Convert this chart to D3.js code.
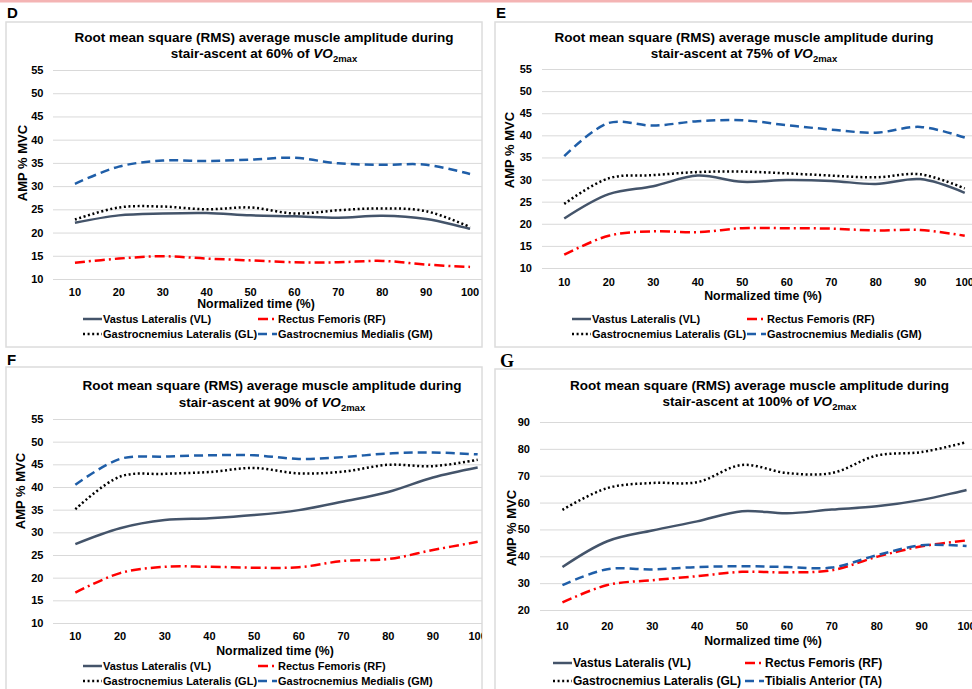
<!DOCTYPE html>
<html>
<head>
<meta charset="utf-8">
<script src="https://cdn.jsdelivr.net/npm/d3@7"></script>
<style>
  body { margin: 0; background: #fff; }
  text { font-family: "Liberation Sans", Arial, sans-serif; font-weight: bold; fill: #000; }
</style>
</head>
<body>
<svg width="972" height="689"></svg>
<script>
// categories + tick labels
const times = [10, 20, 30, 40, 50, 60, 70, 80, 90, 100];
const ticksLow = [10, 15, 20, 25, 30, 35, 40, 45, 50, 55];
const ticksHigh = [20, 30, 40, 50, 60, 70, 80, 90];

// D - 60% VO2max
const vl60 = [22.1, 23.7, 24.1, 24.2, 23.7, 23.5, 23.2, 23.6, 22.9, 20.8];
const rf60 = [13.5, 14.4, 14.9, 14.4, 14.0, 13.6, 13.6, 13.9, 13.1, 12.6];
const gl60 = [22.8, 25.4, 25.6, 25.0, 25.4, 24.1, 24.8, 25.2, 24.6, 21.2];
const gm60 = [30.5, 34.2, 35.5, 35.4, 35.7, 36.1, 34.9, 34.6, 34.6, 32.6];

// E - 75% VO2max
const vl75 = [21.2, 26.7, 28.5, 30.9, 29.5, 29.9, 29.7, 29.0, 30.1, 27.0];
const rf75 = [13.0, 17.3, 18.3, 18.1, 19.0, 19.0, 18.9, 18.5, 18.6, 17.3];
const gl75 = [24.5, 30.3, 31.0, 31.7, 31.8, 31.4, 30.9, 30.5, 31.2, 28.0];
const gm75 = [35.3, 42.8, 42.2, 43.2, 43.4, 42.3, 41.3, 40.6, 41.9, 39.5];

// F - 90% VO2max
const vl90 = [27.4, 30.9, 32.7, 33.1, 33.8, 34.9, 36.8, 38.9, 42.1, 44.3];
const rf90 = [16.7, 21.0, 22.4, 22.4, 22.2, 22.3, 23.7, 24.1, 26.1, 27.9];
const gl90 = [35.1, 42.3, 42.9, 43.3, 44.2, 43.0, 43.4, 44.9, 44.6, 46.0];
const gm90 = [40.5, 46.2, 46.7, 47.0, 47.0, 46.2, 46.6, 47.4, 47.6, 47.2];

// G - 100% VO2max
const vl100 = [36.0, 45.6, 49.6, 53.0, 56.8, 56.0, 57.4, 58.6, 61.0, 64.7];
const rf100 = [22.8, 29.3, 31.1, 32.6, 34.2, 34.0, 34.8, 39.8, 43.7, 45.9];
const gl100 = [57.3, 65.4, 67.3, 67.6, 74.0, 71.0, 71.0, 77.5, 78.8, 82.5];
const ta100 = [29.3, 35.2, 35.1, 36.0, 36.3, 36.0, 35.8, 40.4, 44.1, 43.8];

const styles = {
  VL: { color: "#44546a", dash: null, name: "Vastus Lateralis (VL)" },
  RF: { color: "#ff0000", dash: "10,4,2,4", name: "Rectus Femoris (RF)" },
  GL: { color: "#000000", dash: "2,2.6", name: "Gastrocnemius Lateralis (GL)" },
  GM: { color: "#1f5ea8", dash: "9,5", name: "Gastrocnemius Medialis (GM)" },
  TA: { color: "#1f5ea8", dash: "9,5", name: "Tibialis Anterior (TA)" }
};

var svg = d3.select("svg");

// pink strip along the top
svg.append("rect").attr("x", 0).attr("y", 0).attr("width", 972).attr("height", 2.5).attr("fill", "#f4b4b4");

const panels = [
  { id: "D", pct: "60%", box: [6, 22, 482, 347], x: [53, 492], y: [279, 70], ticks: ticksLow,
    series: [["VL", vl60], ["RF", rf60], ["GL", gl60], ["GM", gm60]],
    letter: [7, 18], title: [264, 37, 53.5], yTitle: [22, 163], xPad: 9, xTitle: [256, 304],
    legend: [319, 334, 83, 258], fs: 11 },
  { id: "E", pct: "75%", box: [495, 22, 990, 347], x: [542, 987], y: [268, 69], ticks: ticksLow,
    series: [["VL", vl75], ["RF", rf75], ["GL", gl75], ["GM", gm75]],
    letter: [496, 18], title: [744, 37, 53.5], yTitle: [509, 150], xPad: 10, xTitle: [763, 296],
    legend: [319, 334, 572, 747], fs: 11 },
  { id: "F", pct: "90%", box: [6, 367, 482, 700], x: [53, 500], y: [623, 419], ticks: ticksLow,
    series: [["VL", vl90], ["RF", rf90], ["GL", gl90], ["GM", gm90]],
    letter: [7, 365], title: [272, 385, 402], yTitle: [20, 491], xPad: 9, xTitle: [275, 651],
    legend: [666, 681, 83, 258], fs: 11 },
  { id: "G", pct: "100%", box: [495, 369, 990, 700], x: [540, 989], y: [610, 422], ticks: ticksHigh,
    series: [["VL", vl100], ["RF", rf100], ["GL", gl100], ["TA", ta100]],
    letter: [500, 367], title: [759.5, 385, 401.5], yTitle: [511, 528], xPad: 12, xTitle: [763, 641],
    legend: [663, 681, 553, 745], fs: 12, serifLetter: true }
];

panels.forEach(function (p) {
  var b = p.box;
  // panel border
  svg.append("rect")
    .attr("x", b[0]).attr("y", b[1])
    .attr("width", b[2] - b[0]).attr("height", b[3] - b[1])
    .attr("fill", "none").attr("stroke", "#dcdcdc").attr("stroke-width", 1.5);

  svg.append("clipPath").attr("id", "clip" + p.id)
    .append("rect").attr("x", b[0]).attr("y", b[1])
    .attr("width", b[2] - b[0]).attr("height", b[3] - b[1]);

  // panel letter
  svg.append("text")
    .attr("x", p.letter[0]).attr("y", p.letter[1])
    .style("font-family", p.serifLetter ? "'Liberation Serif', 'DejaVu Serif', serif" : null)
    .attr("font-size", p.serifLetter ? "18px" : "15px")
    .text(p.id);

  var g = svg.append("g").attr("clip-path", "url(#clip" + p.id + ")");

  var x = d3.scaleBand().domain(times).range(p.x);
  var y = d3.scaleLinear().domain([p.ticks[0], p.ticks[p.ticks.length - 1]]).range(p.y);

  // gridlines + y labels
  var ya = g.append("g")
    .attr("transform", "translate(" + p.x[0] + ",0)")
    .call(d3.axisLeft(y).tickValues(p.ticks).tickSize(-(p.x[1] - p.x[0])).tickPadding(p.id == "D" || p.id == "F" ? 9.5 : 10));
  ya.select(".domain").remove();
  ya.selectAll("line").attr("stroke", "#d9d9d9").attr("stroke-width", 1);
  ya.selectAll("text").attr("font-size", "11px").attr("font-family", null);

  // x labels
  var xa = g.append("g")
    .attr("transform", "translate(0," + p.y[0] + ")")
    .call(d3.axisBottom(x).tickSize(0).tickPadding(p.xPad));
  xa.select(".domain").remove();
  xa.selectAll("text").attr("font-size", "11px").attr("font-family", null);

  // series
  var line = d3.line()
    .x(function (d, i) { return x(times[i]) + x.bandwidth() / 2; })
    .y(function (d) { return y(d); })
    .curve(d3.curveCatmullRom.alpha(0.5));

  p.series.forEach(function (s) {
    var st = styles[s[0]];
    g.append("path")
      .datum(s[1])
      .attr("fill", "none")
      .attr("stroke", st.color)
      .attr("stroke-width", 2.5)
      .attr("stroke-dasharray", st.dash)
      .attr("d", line);
  });

  // title
  var t = g.append("text").attr("text-anchor", "middle").attr("font-size", "13.5px");
  t.append("tspan").attr("x", p.title[0]).attr("y", p.title[1]).attr("dy", "0.35em")
    .text("Root mean square (RMS) average muscle amplitude during");
  var t2 = g.append("text").attr("text-anchor", "middle").attr("font-size", "13.5px")
    .attr("x", p.title[0]).attr("y", p.title[2]).attr("dy", "0.35em");
  t2.append("tspan").text("stair-ascent at " + p.pct + " of ");
  t2.append("tspan").attr("font-style", "italic").text("VO");
  t2.append("tspan").attr("font-size", "9.5px").attr("dy", "4").text("2max");

  // axis titles
  g.append("text")
    .attr("transform", "translate(" + p.yTitle[0] + "," + p.yTitle[1] + ") rotate(-90)")
    .attr("text-anchor", "middle").attr("dy", "0.35em").attr("font-size", "13px")
    .text("AMP % MVC");
  g.append("text")
    .attr("x", p.xTitle[0]).attr("y", p.xTitle[1]).attr("dy", "0.35em")
    .attr("text-anchor", "middle").attr("font-size", "12.3px")
    .text("Normalized time (%)");

  // legend (2 x 2)
  p.series.forEach(function (s, i) {
    var st = styles[s[0]];
    var ly = i < 2 ? p.legend[0] : p.legend[1];
    var lx = i % 2 == 0 ? p.legend[2] : p.legend[3];
    g.append("line")
      .attr("x1", lx).attr("x2", lx + 19)
      .attr("y1", ly).attr("y2", ly)
      .attr("stroke", st.color).attr("stroke-width", 2.5)
      .attr("stroke-dasharray", st.dash);
    g.append("text")
      .attr("x", lx + 20).attr("y", ly).attr("dy", "0.35em")
      .attr("font-size", p.fs + "px")
      .text(st.name);
  });
});
</script>
</body>
</html>
